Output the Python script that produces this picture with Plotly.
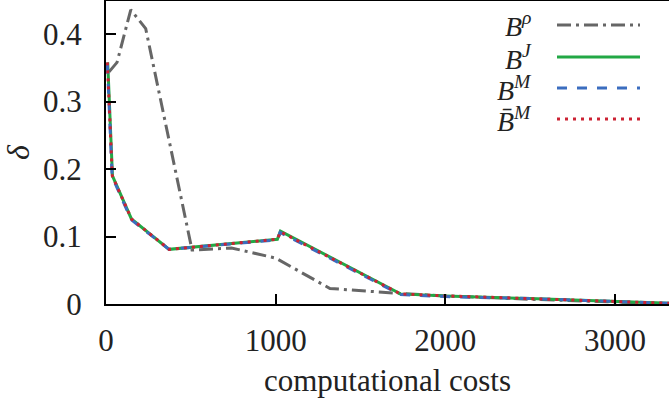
import plotly.graph_objects as go

# Data
rho_x = [18, 65, 146, 234, 507, 740, 1000, 1320, 1710, 2000, 2500, 3000, 3318]
rho_y = [0.344, 0.358, 0.436, 0.408, 0.080, 0.083, 0.068, 0.023, 0.016, 0.012, 0.007, 0.003, 0.0005]

j_x = [10, 38, 150, 372, 1010, 1028, 1735, 2000, 2500, 3000, 3318]
j_y = [0.358, 0.190, 0.126, 0.081, 0.096, 0.108, 0.015, 0.012, 0.008, 0.004, 0.001]

m_x = [8, 36, 148, 372, 1010, 1026, 1735, 2000, 2500, 3000, 3318]
m_y = [0.356, 0.189, 0.125, 0.081, 0.095, 0.106, 0.014, 0.011, 0.008, 0.004, 0.001]

mb_x = [8, 37, 150, 372, 1010, 1028, 1735, 2000, 2500, 3000, 3318]
mb_y = [0.358, 0.190, 0.126, 0.081, 0.096, 0.107, 0.015, 0.012, 0.008, 0.004, 0.001]

x_ticks = [0, 1000, 2000, 3000]
y_ticks = [0, 0.1, 0.2, 0.3, 0.4]
y_ticktext = ["0", "0.1", "0.2", "0.3", "0.4"]

labels = ["<i>B</i><sup><i>ρ</i></sup>", "<i>B</i><sup><i>J</i></sup>",
          "<i>B</i><sup><i>M</i></sup>", "<i>B̄</i><sup><i>M</i></sup>"]
colors = ["#666666", "#22a845", "#3b6dbf", "#cc2233"]
dashes = ["14px,5px,3px,5px", "solid", "10px,10px", "3px,5px"]

FONT = "Liberation Serif"

fig = go.Figure()
series = [(rho_x, rho_y), (j_x, j_y), (m_x, m_y), (mb_x, mb_y)]
for (xs, ys), c, d in zip(series, colors, dashes):
    fig.add_trace(go.Scatter(x=xs, y=ys, mode="lines",
                             line=dict(color=c, width=3, dash=d),
                             showlegend=False))

W, H = 669, 401
L, R, T, B = 106, 0, 1, 97
pw = W - L - R
ph = H - T - B

def px2paper(x, y):
    return (x - L) / pw, 1 - (y - T) / ph

# manual legend: text on the left, line sample on the right
rows = [25, 57, 88, 119]
for lab, c, d, ry in zip(labels, colors, dashes, rows):
    tx, ty = px2paper(534, ry)
    fig.add_annotation(x=tx, y=ty, xref="paper", yref="paper", text=lab,
                       showarrow=False, xanchor="right", yanchor="middle",
                       font=dict(family=FONT, size=28, color="#222222"))
    x0, y0 = px2paper(557, ry)
    x1, _ = px2paper(640, ry)
    fig.add_shape(type="line", xref="paper", yref="paper",
                  x0=x0, x1=x1, y0=y0, y1=y0,
                  line=dict(color=c, width=3, dash=d))

span = "<span style='font-family:Liberation Serif'>{}</span>"

fig.update_layout(
    width=W, height=H,
    margin=dict(l=L, r=R, t=T, b=B, pad=0),
    paper_bgcolor="white", plot_bgcolor="white",
    font=dict(family=FONT, size=31, color="#222222"),
    xaxis=dict(range=[0, 3318], tickvals=x_ticks,
               ticktext=[span.format(v) for v in x_ticks],
               ticks="inside", ticklen=10, tickwidth=1.5, tickcolor="black",
               showline=True, linecolor="black", linewidth=2, mirror=True,
               showgrid=False, zeroline=False, ticklabelstandoff=8,
               tickfont=dict(family=FONT, size=31, color="#222222"),
               title=dict(text="computational costs", standoff=12,
                          font=dict(family=FONT, size=31))),
    yaxis=dict(range=[0, 0.449], tickvals=y_ticks,
               ticktext=[span.format(t) for t in y_ticktext],
               ticks="inside", ticklen=10, tickwidth=1.5, tickcolor="black",
               showline=True, linecolor="black", linewidth=2, mirror=False,
               showgrid=False, zeroline=False, ticklabelstandoff=16,
               tickfont=dict(family=FONT, size=31, color="#222222"),
               title=dict(text="<i>δ</i>", standoff=18,
                          font=dict(family=FONT, size=32))),
)

fig.write_html("out.html")
